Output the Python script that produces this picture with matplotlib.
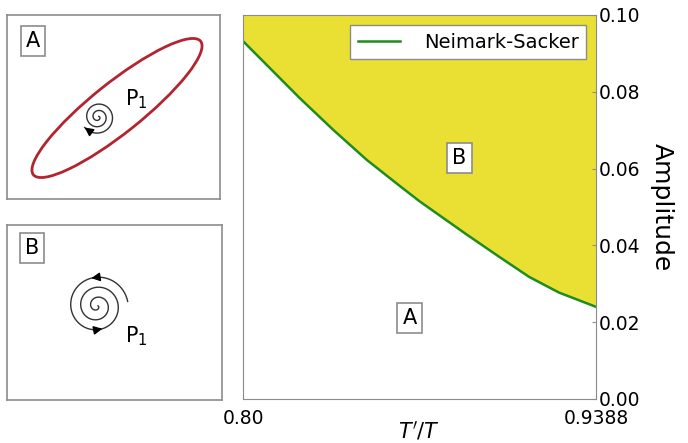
import matplotlib
matplotlib.use("Agg")
import matplotlib.pyplot as plt
import numpy as np
from matplotlib.patches import Ellipse

# Neimark-Sacker boundary
ratio = [0.800, 0.8224, 0.8353, 0.8486, 0.8616, 0.8694, 0.8878, 0.9008, 0.9125, 0.9243, 0.9388]
amplitude = [0.0932, 0.0783, 0.0702, 0.0623, 0.0555, 0.0515, 0.0429, 0.0370, 0.0318, 0.0277, 0.0240]
x_ticks = [0.80, 0.9388]
x_ticklabels = ["0.80", "0.9388"]
y_ticks = [0.00, 0.02, 0.04, 0.06, 0.08, 0.10]

gray = "#8c8c8c"
box = dict(boxstyle="square,pad=0.25", facecolor="white", edgecolor=gray, linewidth=1.2)

fig = plt.figure(figsize=(6.88, 4.43), dpi=100)

# main diagram
ax = fig.add_axes([243/688, 44/443, 353/688, 384/443])
ax.fill_between(ratio, amplitude, 0.1, color="#e9e033", linewidth=0)
ax.plot(ratio, amplitude, color="#1f8c1f", linewidth=1.8, label="Neimark-Sacker")
ax.set_xlim(0.80, 0.9388)
ax.set_ylim(0.0, 0.10)
ax.set_xticks(x_ticks)
ax.set_xticklabels(x_ticklabels)
ax.set_yticks(y_ticks)
ax.yaxis.tick_right()
ax.yaxis.set_label_position("right")
ax.tick_params(direction="in", length=3, color=gray, labelsize=13.5, pad=2)
ax.tick_params(axis="x", pad=7)
for s in ax.spines.values():
    s.set_color(gray)
ax.set_xlabel("$T'/T$", fontsize=15, labelpad=-6)
ax.set_ylabel("Amplitude", fontsize=18, rotation=270, labelpad=24)
leg = ax.legend(loc="upper right", fontsize=14, fancybox=False, framealpha=1,
                handlelength=2.2, handletextpad=1.2, borderaxespad=0.5)
leg.get_frame().set_edgecolor(gray)
ax.text(0.8655, 0.0211, "A", fontsize=15, ha="center", va="center", bbox=box)
ax.text(0.8851, 0.0628, "B", fontsize=15, ha="center", va="center", bbox=box)

def panel(rect, w, h):
    a = fig.add_axes(rect)
    a.set_xlim(0, w)
    a.set_ylim(0, h)
    a.set_xticks([])
    a.set_yticks([])
    for s in a.spines.values():
        s.set_color(gray)
        s.set_linewidth(1.2)
    return a

arrow = dict(arrowstyle="-|>", color="black", lw=1, mutation_scale=13,
             shrinkA=0, shrinkB=0)

# panel A: unstable spiral inside a limit cycle
axA = panel([7/688, 244/443, 213/688, 184/443], 213, 184)
axA.add_patch(Ellipse((110, 91), 214, 50, angle=38.6, fill=False,
                      edgecolor="#b22430", linewidth=2))
T = 5.0*np.pi
t = np.linspace(0, T, 400)
r = 1 + 16*t/T
ang = np.radians(218) + (T - t)
xs = 91 + r*np.cos(ang)
ys = 82 + r*np.sin(ang)
axA.plot(xs, ys, color="#333333", linewidth=1)
axA.annotate("", xy=(xs[-1], ys[-1]), xytext=(xs[-12], ys[-12]), arrowprops=arrow)
axA.text(118, 100, "P$_1$", fontsize=15, va="center")
axA.text(26, 158, "A", fontsize=15, ha="center", va="center", bbox=box)

# panel B: stable spiral
axB = panel([7/688, 43/443, 215/688, 175/443], 215, 175)
T = 6.0*np.pi
t = np.linspace(0, T, 500)
r = 30*(1 - t/T) + 1
ang = 0.15 + t
xs = 90 + r*np.cos(ang)
ys = 94 + r*np.sin(ang)
axB.plot(xs, ys, color="#333333", linewidth=1)
for a0 in (np.pi/2, 3*np.pi/2):
    i = int((a0 - 0.15)/T*500)
    axB.annotate("", xy=(xs[i+6], ys[i+6]), xytext=(xs[i], ys[i]), arrowprops=arrow)
axB.text(118, 64, "P$_1$", fontsize=15, va="center")
axB.text(25, 152, "B", fontsize=15, ha="center", va="center", bbox=box)

fig.savefig("out.png", dpi=100)
